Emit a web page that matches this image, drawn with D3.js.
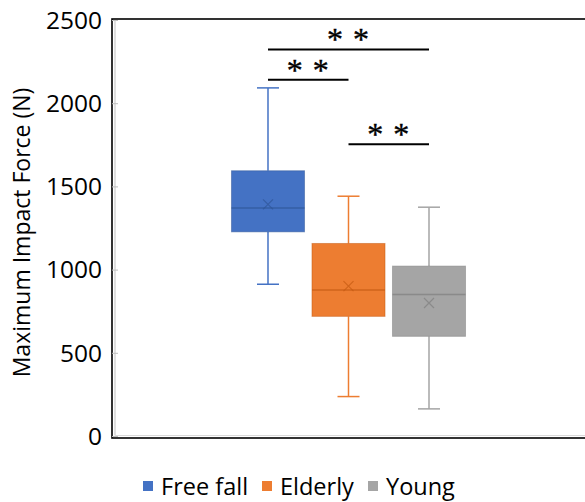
<!DOCTYPE html>
<html><head><meta charset="utf-8">
<script src="https://cdn.jsdelivr.net/npm/d3@7"></script>
<style>body{margin:0;background:#fff;} svg{display:block;}</style>
</head><body>
<svg id="c" width="585" height="502"></svg>
<script>
const series = ["Free fall", "Elderly", "Young"];
const colors = ["#4472C4", "#ED7D31", "#A5A5A5"];
const darkColors = ["#2F5597", "#C55A11", "#7F7F7F"];
const whiskerLow = [915, 240, 166];
const q1 = [1230, 722, 602];
const median = [1373, 880, 854];
const q3 = [1597, 1160, 1024];
const whiskerHigh = [2095, 1444, 1378];
const means = [1395, 904, 802];
const yTicks = [0, 500, 1000, 1500, 2000, 2500];
const sigFrom = ["Free fall", "Free fall", "Elderly"];
const sigTo = ["Young", "Elderly", "Young"];
const sigLevel = [2326, 2144, 1756];
const sigLabel = ["* *", "* *", "* *"];
const yLabel = "Maximum Impact Force (N)";

const svg = d3.select("#c");
const font = "'Open Sans', 'Noto Sans', sans-serif";
const plot = {left: 115, right: 582, top: 20.5, bottom: 436.5};

const y = d3.scaleLinear().domain([0, 2500]).range([plot.bottom, plot.top]);
const x = d3.scaleBand().domain(series).range([plot.left, plot.right])
  .paddingInner(0.093).paddingOuter(1.447);

// frame
svg.append("rect").attr("x", 112).attr("y", 19).attr("width", 480).attr("height", 419)
  .attr("fill", "none").attr("stroke", "#000").attr("stroke-width", 1.6);
svg.append("line").attr("x1", 115).attr("x2", 115).attr("y1", 21).attr("y2", 435.5)
  .attr("stroke", "#bfbfbf").attr("stroke-width", 1);
svg.append("line").attr("x1", 115).attr("x2", 586).attr("y1", 435.5).attr("y2", 435.5)
  .attr("stroke", "#d9d9d9").attr("stroke-width", 1);

// y axis
const ax = svg.append("g").attr("transform", `translate(${plot.left},0)`)
  .call(d3.axisLeft(y).tickValues(yTicks).tickSize(0).tickPadding(13).tickFormat(d3.format("d")));
ax.select(".domain").remove();
ax.selectAll("text").attr("font-family", font).attr("font-size", 24.5).attr("fill", "#000");
svg.append("g").selectAll("line").data(yTicks).join("line")
  .attr("x1", 112).attr("x2", 118).attr("y1", d => y(d)).attr("y2", d => y(d))
  .attr("stroke", "#bfbfbf").attr("stroke-width", 1);

// y label
svg.append("text").attr("transform", `translate(30,${(plot.top + plot.bottom) / 2 + 4}) rotate(-90)`)
  .attr("text-anchor", "middle").attr("font-family", font).attr("font-size", 23)
  .attr("fill", "#000").text(yLabel);

// boxes
const bw = x.bandwidth();
const g = svg.append("g");
series.forEach((s, i) => {
  const cx = x(s) + bw / 2;
  const gg = g.append("g");
  gg.append("line").attr("x1", cx).attr("x2", cx).attr("y1", y(whiskerHigh[i])).attr("y2", y(q3[i]))
    .attr("stroke", colors[i]).attr("stroke-width", 1.5);
  gg.append("line").attr("x1", cx).attr("x2", cx).attr("y1", y(q1[i])).attr("y2", y(whiskerLow[i]))
    .attr("stroke", colors[i]).attr("stroke-width", 1.5);
  [whiskerHigh[i], whiskerLow[i]].forEach(v => {
    gg.append("line").attr("x1", cx - 11).attr("x2", cx + 11).attr("y1", y(v)).attr("y2", y(v))
      .attr("stroke", colors[i]).attr("stroke-width", 1.5);
  });
  gg.append("rect").attr("x", x(s)).attr("y", y(q3[i])).attr("width", bw)
    .attr("height", y(q1[i]) - y(q3[i])).attr("fill", colors[i])
    .attr("stroke", darkColors[i]).attr("stroke-opacity", 0.5).attr("stroke-width", 1);
  gg.append("line").attr("x1", x(s)).attr("x2", x(s) + bw).attr("y1", y(median[i])).attr("y2", y(median[i]))
    .attr("stroke", darkColors[i]).attr("stroke-opacity", 0.7).attr("stroke-width", 1.5);
  const my = y(means[i]), r = 5;
  gg.append("path").attr("d", `M${cx - r},${my - r}L${cx + r},${my + r}M${cx - r},${my + r}L${cx + r},${my - r}`)
    .attr("stroke", darkColors[i]).attr("stroke-opacity", 0.7).attr("stroke-width", 1.2).attr("fill", "none");
});

// significance
const sg = svg.append("g");
sigLevel.forEach((v, i) => {
  const x1 = x(sigFrom[i]) + bw / 2, x2 = x(sigTo[i]) + bw / 2;
  sg.append("line").attr("x1", x1).attr("x2", x2).attr("y1", y(v)).attr("y2", y(v))
    .attr("stroke", "#000").attr("stroke-width", 2);
  sg.append("text").attr("x", (x1 + x2) / 2).attr("y", y(v) + 1).attr("text-anchor", "middle")
    .attr("font-family", "'Liberation Serif', serif").attr("font-size", 32).attr("fill", "#000")
    .attr("stroke", "#000").attr("stroke-width", 0.4)
    .attr("letter-spacing", 1).text(sigLabel[i]);
});

// legend
const legX = [143, 262, 368];
const lg = svg.append("g");
series.forEach((s, i) => {
  lg.append("rect").attr("x", legX[i]).attr("y", 481).attr("width", 10).attr("height", 10).attr("fill", colors[i]);
  lg.append("text").attr("x", legX[i] + 18).attr("y", 495).attr("font-family", font).attr("font-size", 23.5)
    .attr("fill", "#000").text(s);
});
</script>
</body></html>
